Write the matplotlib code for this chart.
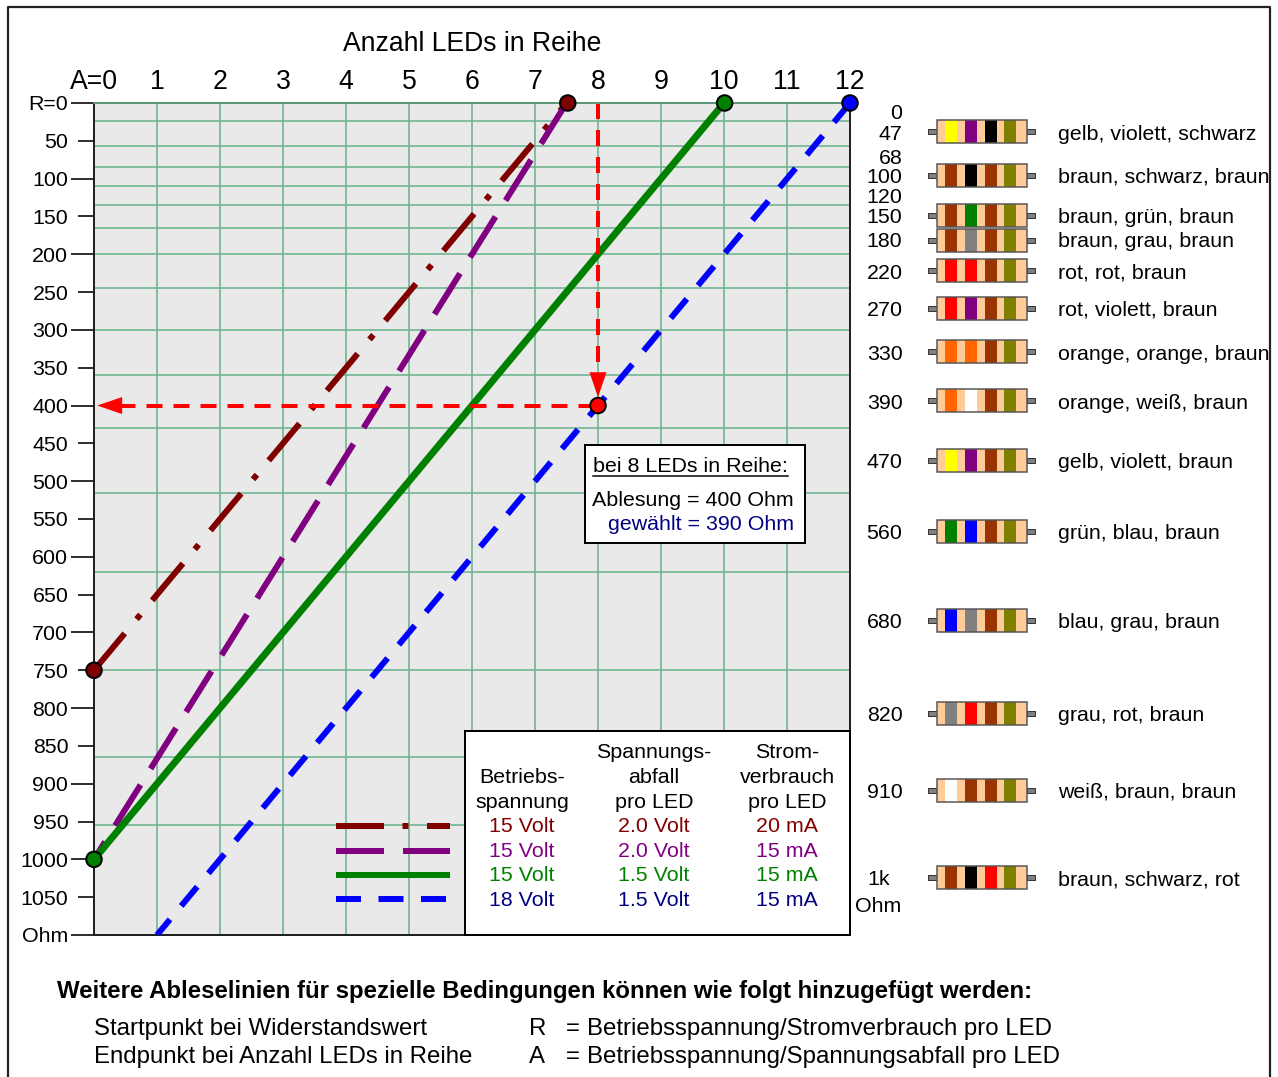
import matplotlib as mpl
mpl.use('Agg')
import matplotlib.pyplot as plt
from matplotlib.patches import Rectangle

mpl.rcParams['font.family'] = ['Liberation Sans', 'DejaVu Sans']
mpl.rcParams['lines.scale_dashes'] = False

W, H = 1278, 1077
PX = 0.72  # pixels to points at dpi 100
FS = 15.4
FS_BIG = 19.2
FS_LOW = 17.3

# chart data
led_ticks = list(range(13))
led_labels = ['A=0'] + [str(i) for i in range(1, 13)]
ohm_major = [0, 100, 200, 300, 400, 500, 600, 700, 800, 900, 1000, 1100]
ohm_major_labels = ['R=0', '100', '200', '300', '400', '500', '600', '700', '800', '900', '1000', 'Ohm']
ohm_minor = [50, 150, 250, 350, 450, 550, 650, 750, 850, 950, 1050]
ohm_minor_labels = ['50', '150', '250', '350', '450', '550', '650', '750', '850', '950', '1050']
grid_ohm = [23.5, 57.5, 84, 110, 135, 165, 200, 245, 300, 360, 430, 515, 620, 750, 865, 955]

# each line is drawn from the end where its dash pattern starts
line_a = [[0, 7.5], [7.5, 0], [10, 0], [12, 1]]
line_r = [[750, 0], [0, 1000], [0, 1000], [0, 1100]]
line_colors = ['#800000', '#800080', '#008000', '#0000ff']
line_widths = [6, 6, 7, 6]
line_dashes = [(0, (48 * PX, 18.5 * PX, 6 * PX, 18.5 * PX)),
               (0, (48 * PX, 19 * PX)),
               '-',
               (0, (25 * PX, 17.5 * PX))]

dot_a = [7.52, 10.01, 12, 0, 0, 8]
dot_r = [0, 0, 0, 750, 1000, 400]
dot_colors = ['#800000', '#008000', '#0000ff', '#800000', '#008000', '#ff0000']

# resistor table
res_labels = ['0', '47', '68', '100', '120', '150', '180', '220', '270', '330', '390', '470', '560', '680', '820', '910']
res_base = [119, 140, 164, 183, 203, 223, 247, 279, 316.5, 360, 409, 468, 539, 628, 721, 798]
res_y = [131.7, 175.3, 215.3, 240.3, 270.3, 308, 351.3, 400.5, 460, 531, 620, 713, 790, 877]
res_names = ['gelb, violett, schwarz', 'braun, schwarz, braun', 'braun, grün, braun', 'braun, grau, braun',
             'rot, rot, braun', 'rot, violett, braun', 'orange, orange, braun', 'orange, weiß, braun',
             'gelb, violett, braun', 'grün, blau, braun', 'blau, grau, braun', 'grau, rot, braun',
             'weiß, braun, braun', 'braun, schwarz, rot']
name_base = [140, 182.5, 223, 247, 278.5, 316, 360, 409, 468, 539, 628, 721, 798, 885]
BR, GE, VI, SW, GN, GR, RT, OR, WS, BL = '#993300', '#ffff00', '#800080', '#000000', '#008000', '#808080', '#ff0000', '#ff6600', '#ffffff', '#0000ff'
res_bands = [[GE, VI, SW], [BR, SW, BR], [BR, GN, BR], [BR, GR, BR], [RT, RT, BR], [RT, VI, BR], [OR, OR, BR],
             [OR, WS, BR], [GE, VI, BR], [GN, BL, BR], [BL, GR, BR], [GR, RT, BR], [WS, BR, BR], [BR, SW, RT]]

# legend table
legend_colors = ['#800000', '#800080', '#008000', '#000080']
legend_volt = ['15 Volt', '15 Volt', '15 Volt', '18 Volt']
legend_drop = ['2.0 Volt', '2.0 Volt', '1.5 Volt', '1.5 Volt']
legend_curr = ['20 mA', '15 mA', '15 mA', '15 mA']

fig = plt.figure(figsize=(W / 100, H / 100), dpi=100, facecolor='white')
ax = fig.add_axes([94 / W, 1 - 935 / H, 756 / W, 832 / H])
ax.set_xlim(0, 12)
ax.set_ylim(1100, 0)
ax.set_facecolor('#e9e9e9')

grid_c = '#6db38f'
for v in led_ticks[1:]:
    ax.axvline(v, color=grid_c, lw=1.6 * PX, zorder=1)
for v in grid_ohm:
    ax.axhline(v, color=grid_c, lw=1.6 * PX, zorder=1)
ax.axhline(0, color=grid_c, lw=1.6 * PX, zorder=6, clip_on=False)

for a, r, c, w, d in zip(line_a, line_r, line_colors, line_widths, line_dashes):
    ax.plot(a, r, color=c, lw=w * PX, ls=d, dash_capstyle='butt', solid_capstyle='butt', zorder=3)

# reading lines
ax.plot([8, 8], [0, 356], color='#ff0000', lw=4 * PX, ls=(0, (16 * PX, 11 * PX)), dash_capstyle='butt', zorder=4)
ax.plot([8, 0.44], [400, 400], color='#ff0000', lw=4 * PX, ls=(23.5 * PX, (16 * PX, 11 * PX)),
        dash_capstyle='butt', zorder=4)
arrow = dict(arrowstyle='-|>,head_length=%f,head_width=%f' % (25 * PX, 8.5 * PX), color='#ff0000', lw=0,
             shrinkA=0, shrinkB=0, mutation_scale=1, zorder=4)
ax.annotate('', xy=(8, 389), xytext=(8, 355), arrowprops=arrow, zorder=4)
ax.annotate('', xy=(0.05, 400), xytext=(0.44, 400), arrowprops=arrow, zorder=4)

ax.scatter(dot_a, dot_r, s=(15.5 * PX) ** 2, c=dot_colors, edgecolors='black', linewidths=2 * PX, clip_on=False, zorder=7)

ax.xaxis.tick_top()
ax.set_xticks(led_ticks)
ax.set_xticklabels(led_labels, fontsize=FS_BIG)
ax.tick_params(axis='x', length=0, pad=5.5)
ax.set_yticks(ohm_major)
ax.set_yticklabels(ohm_major_labels, fontsize=FS)
ax.set_yticks(ohm_minor, labels=ohm_minor_labels, minor=True, fontsize=FS)
ax.tick_params(axis='y', which='major', length=23 * PX, width=1.6 * PX, pad=2)
ax.tick_params(axis='y', which='minor', length=16 * PX, width=1.6 * PX, pad=7)
for s in ax.spines.values():
    s.set_linewidth(2 * PX)
    s.set_color('#222222')

# overlay in picture pixels for the text and boxes around the chart
pix = fig.add_axes([0, 0, 1, 1], zorder=5)
pix.set_xlim(0, W)
pix.set_ylim(H, 0)
pix.axis('off')
pix.patch.set_visible(False)

pix.plot([8, 8, 1270, 1270], [H, 6.5, 6.5, H], color='#222222', lw=2.2 * PX, clip_on=False)
pix.text(343, 51, 'Anzahl LEDs in Reihe', fontsize=19.1, va='baseline')

for lab, y in zip(res_labels, res_base):
    pix.text(902.5, y, lab, fontsize=FS, ha='right', va='baseline')
pix.text(879, 885, '1k', fontsize=FS, ha='center', va='baseline')
pix.text(878, 912, 'Ohm', fontsize=FS, ha='center', va='baseline')

band_x = [945, 965, 985, 1004]
for y, bands, name, nb in zip(res_y, res_bands, res_names, name_base):
    pix.add_patch(Rectangle((928, y - 2.5), 9, 5, fc='#808080', ec='#333333', lw=1 * PX))
    pix.add_patch(Rectangle((1027, y - 2.5), 8, 5, fc='#808080', ec='#333333', lw=1 * PX))
    pix.add_patch(Rectangle((937, y - 11.5), 90, 23, fc='#ffcc99', ec='none', zorder=2))
    for x, c in zip(band_x, bands + ['#808000']):
        pix.add_patch(Rectangle((x, y - 11.5), 12, 23, fc=c, ec='none', zorder=2))
    pix.add_patch(Rectangle((937, y - 11.5), 90, 23, fc='none', ec='#555555', lw=1.5 * PX, zorder=3))
    pix.text(1058, nb, name, fontsize=FS, va='baseline')

# info box
pix.add_patch(Rectangle((584.5, 445), 220, 98, fc='white', ec='black', lw=2 * PX))
pix.text(593, 472.5, 'bei 8 LEDs in Reihe:', fontsize=FS, va='baseline')
pix.plot([593, 788], [476, 476], color='black', lw=1.5 * PX)
pix.text(794, 506, 'Ablesung = 400 Ohm', fontsize=FS, ha='right', va='baseline')
pix.text(794, 530, 'gewählt = 390 Ohm', fontsize=FS, ha='right', va='baseline', color='#000080')

# legend box
pix.add_patch(Rectangle((464.5, 731), 385.5, 204, fc='white', ec='black', lw=2 * PX))
col_x = [522, 654, 787]
head = [['Betriebs-', 'spannung'], ['Spannungs-', 'abfall', 'pro LED'], ['Strom-', 'verbrauch', 'pro LED']]
row_y = [[783, 808], [758, 783, 808], [758, 783, 808]]
for x, rows, ys in zip(col_x, head, row_y):
    for y, t in zip(ys, rows):
        pix.text(x, y, t, fontsize=FS, ha='center', va='baseline')
value_y = [832, 857, 881, 906]
for y, c, v, d, i in zip(value_y, legend_colors, legend_volt, legend_drop, legend_curr):
    pix.text(col_x[0], y, v, fontsize=FS, ha='center', va='baseline', color=c)
    pix.text(col_x[1], y, d, fontsize=FS, ha='center', va='baseline', color=c)
    pix.text(col_x[2], y, i, fontsize=FS, ha='center', va='baseline', color=c)

key_y = [826, 851, 875, 899]
key_ends = [[336, 450], [336, 450], [336, 450], [336, 446]]
for y, e, c, d in zip(key_y, key_ends, line_colors, line_dashes):
    pix.plot(e, [y, y], color=c, lw=6 * PX, ls=d, dash_capstyle='butt', solid_capstyle='butt')

pix.text(57, 998, 'Weitere Ableselinien für spezielle Bedingungen können wie folgt hinzugefügt werden:',
         fontsize=FS_LOW, fontweight='bold', va='baseline')
pix.text(94, 1035, 'Startpunkt bei Widerstandswert', fontsize=FS_LOW, va='baseline')
pix.text(94, 1063, 'Endpunkt bei Anzahl LEDs in Reihe', fontsize=FS_LOW, va='baseline')
pix.text(529, 1035, 'R', fontsize=FS_LOW, va='baseline')
pix.text(529, 1063, 'A', fontsize=FS_LOW, va='baseline')
pix.text(566, 1035, '=', fontsize=FS_LOW, va='baseline')
pix.text(566, 1063, '=', fontsize=FS_LOW, va='baseline')
pix.text(587, 1035, 'Betriebsspannung/Stromverbrauch pro LED', fontsize=FS_LOW, va='baseline')
pix.text(587, 1063, 'Betriebsspannung/Spannungsabfall pro LED', fontsize=FS_LOW, va='baseline')

plt.savefig('out.png', dpi=100)
